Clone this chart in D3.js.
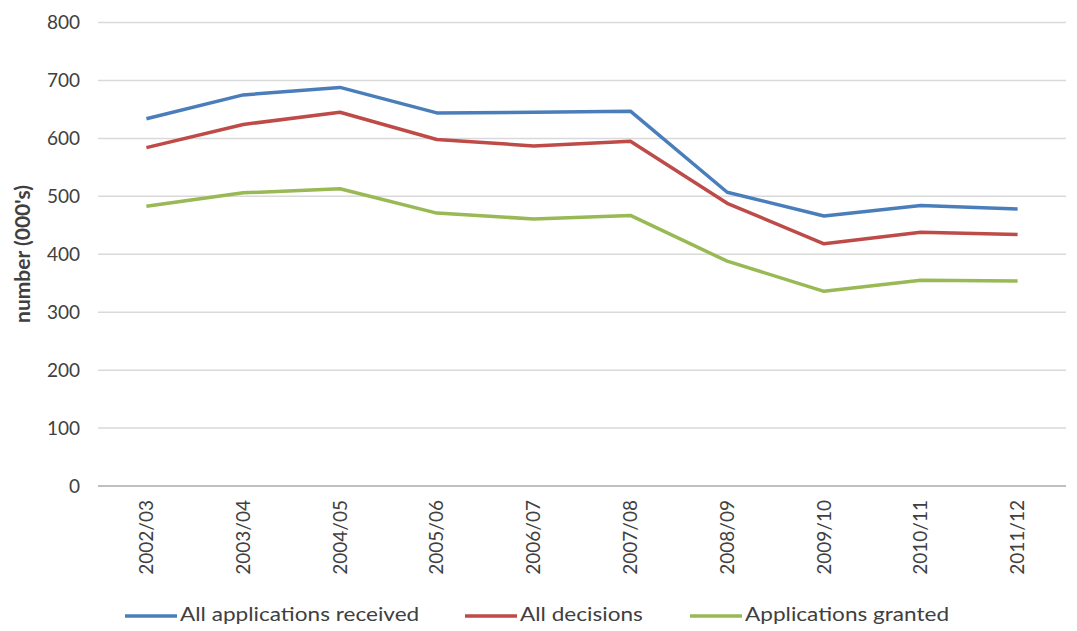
<!DOCTYPE html>
<html>
<head>
<meta charset="utf-8">
<script src="https://cdn.jsdelivr.net/npm/d3@7"></script>
<style>
  html, body { margin: 0; padding: 0; background: #fff; }
  svg text { font-family: Lato, "Open Sans", sans-serif; fill: #404040; }
</style>
</head>
<body>
<svg id="chart" width="1077" height="631"></svg>
<script>
// Financial years on the x axis
const years = ["2002/03","2003/04","2004/05","2005/06","2006/07","2007/08","2008/09","2009/10","2010/11","2011/12"];

// Values in thousands
const received = [634, 675, 688, 644, 645, 647, 507, 466, 484, 478];
const decisions = [584, 624, 645, 598, 587, 595, 488, 418, 438, 434];
const granted   = [483, 506, 513, 471, 461, 467, 388, 336, 355, 354];

const seriesNames = ["All applications received", "All decisions", "Applications granted"];
const seriesColors = ["#4a7ebb", "#be4b48", "#98b954"];
const yTicks = [0, 100, 200, 300, 400, 500, 600, 700, 800];

const series = [received, decisions, granted].map((vals, i) => ({
  name: seriesNames[i], color: seriesColors[i], values: vals
}));

const svg = d3.select("#chart");
const plotLeft = 98, plotRight = 1066, plotTop = 22.5, plotBottom = 486;

const x = d3.scaleBand().domain(years).range([plotLeft, plotRight]);
const y = d3.scaleLinear().domain([0, 800]).range([plotBottom, plotTop]);

// Horizontal gridlines
svg.append("g")
  .selectAll("line")
  .data(yTicks)
  .join("line")
  .attr("x1", plotLeft).attr("x2", plotRight)
  .attr("y1", d => y(d)).attr("y2", d => y(d))
  .attr("stroke", d => d === 0 ? "#bfbfbf" : "#d9d9d9")
  .attr("stroke-width", d => d === 0 ? 2 : 1.5);

// Y axis labels
const yAxis = svg.append("g")
  .attr("transform", `translate(${plotLeft},0)`)
  .call(d3.axisLeft(y).tickValues(yTicks).tickSize(0).tickPadding(18));
yAxis.select(".domain").remove();
yAxis.selectAll("text")
  .style("font-family", "Lato, 'Open Sans', sans-serif")
  .style("font-size", "19px")
  .attr("fill", "#404040");

// X axis labels, rotated
const xAxis = svg.append("g")
  .attr("transform", `translate(0,${plotBottom})`)
  .call(d3.axisBottom(x).tickSize(0).tickPadding(0));
xAxis.select(".domain").remove();
xAxis.selectAll("text")
  .style("font-family", "Lato, 'Open Sans', sans-serif")
  .style("font-size", "19px")
  .attr("fill", "#404040")
  .attr("text-anchor", "end")
  .attr("dy", "0.35em")
  .attr("transform", "translate(0,14) rotate(-90)")
  .attr("y", 0).attr("x", 0);

// Y axis title
svg.append("text")
  .attr("transform", "translate(30,254) rotate(-90)")
  .attr("text-anchor", "middle")
  .style("font-size", "21px")
  .style("font-weight", "bold")
  .attr("fill", "#262626")
  .text("number (000's)");

// Series lines
const line = d3.line()
  .x((d, i) => x(years[i]) + x.bandwidth() / 2)
  .y(d => y(d));

svg.append("g")
  .selectAll("path")
  .data(series)
  .join("path")
  .attr("d", d => line(d.values))
  .attr("fill", "none")
  .attr("stroke", d => d.color)
  .attr("stroke-width", 3.5)
  .attr("stroke-linejoin", "round");

// Legend: swatch line followed by a slightly widened label
const legendX = [125, 465, 690];
const legend = svg.append("g")
  .selectAll("g")
  .data(series)
  .join("g")
  .attr("transform", (d, i) => `translate(${legendX[i]},616)`);
legend.append("line")
  .attr("x1", 0).attr("x2", 52)
  .attr("stroke", d => d.color)
  .attr("stroke-width", 3.5);
legend.append("text")
  .attr("transform", "translate(55,5) scale(1.13,1)")
  .style("font-size", "20px")
  .attr("fill", "#262626")
  .text(d => d.name);
</script>
</body>
</html>
